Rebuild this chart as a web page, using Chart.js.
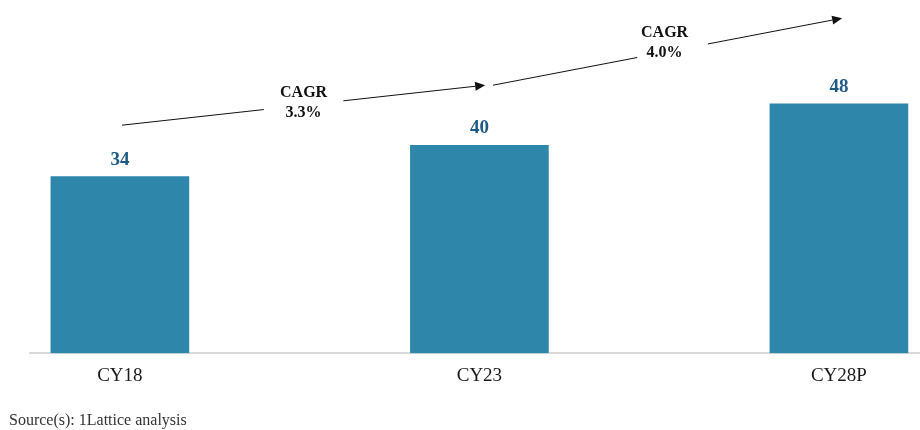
<!DOCTYPE html>
<html>
<head>
<meta charset="utf-8">
<script src="https://cdn.jsdelivr.net/npm/chart.js@4"></script>
<style>
  html, body { margin: 0; padding: 0; background: #ffffff; }
  #wrap { width: 920px; height: 430px; }
</style>
</head>
<body>
<div id="wrap"><canvas id="chart" width="920" height="430"></canvas></div>
<script>
// Market size by calendar year (CY28P = projected)
const categories = ['CY18', 'CY23', 'CY28P'];
const marketSize = [34, 40, 48];
// Growth rates between consecutive periods
const cagrLabels = ['3.3%', '4.0%'];
const sourceNote = 'Source(s): 1Lattice analysis';

const SERIF = '"Liberation Serif", "Times New Roman", Times, serif';
const BAR_COLOR = '#2E86AB';
const VALUE_COLOR = '#1F5A84';

// Value labels above each bar
const valueLabels = {
  id: 'valueLabels',
  afterDatasetsDraw(chart) {
    const { ctx } = chart;
    const meta = chart.getDatasetMeta(0);
    ctx.save();
    ctx.font = 'bold 19px ' + SERIF;
    ctx.fillStyle = VALUE_COLOR;
    ctx.textAlign = 'center';
    ctx.textBaseline = 'middle';
    meta.data.forEach((bar, i) => {
      ctx.fillText(String(marketSize[i]), bar.x, bar.y - 17);
    });
    ctx.restore();
  }
};

// Source note in the bottom-left corner
const sourceText = {
  id: 'sourceText',
  afterDraw(chart) {
    const { ctx } = chart;
    ctx.save();
    ctx.font = '16px ' + SERIF;
    ctx.fillStyle = '#333333';
    ctx.textAlign = 'left';
    ctx.textBaseline = 'middle';
    ctx.fillText(sourceNote, 9, chart.height - 9);
    ctx.restore();
  }
};

// CAGR arrows between bars, with a gap in the line for the label
const cagrArrows = {
  id: 'cagrArrows',
  afterDatasetsDraw(chart, args, opts) {
    const { ctx, scales: { x, y } } = chart;
    ctx.save();
    ctx.strokeStyle = '#111111';
    ctx.fillStyle = '#111111';
    ctx.lineWidth = 1;
    opts.items.forEach((item, k) => {
      const x0 = x.getPixelForValue(item.from[0]);
      const y0 = y.getPixelForValue(item.from[1]);
      const x1 = x.getPixelForValue(item.to[0]);
      const y1 = y.getPixelForValue(item.to[1]);
      const dx = x1 - x0, dy = y1 - y0;
      const len = Math.hypot(dx, dy);
      const ux = dx / len, uy = dy / len;
      const mx = x0 + dx * 0.5, my = y0 + dy * 0.5;
      const head = 10, hw = 4.5;
      ctx.beginPath();
      ctx.moveTo(x0, y0);
      ctx.lineTo(mx - ux * item.gapBefore, my - uy * item.gapBefore);
      ctx.moveTo(mx + ux * item.gapAfter, my + uy * item.gapAfter);
      ctx.lineTo(x1 - ux * head, y1 - uy * head);
      ctx.stroke();
      ctx.beginPath();
      ctx.moveTo(x1, y1);
      ctx.lineTo(x1 - ux * head - uy * hw, y1 - uy * head + ux * hw);
      ctx.lineTo(x1 - ux * head + uy * hw, y1 - uy * head - ux * hw);
      ctx.closePath();
      ctx.fill();
      ctx.font = 'bold 16px ' + SERIF;
      ctx.textAlign = 'center';
      ctx.textBaseline = 'middle';
      const tx = mx + item.dx, ty = my + item.dy;
      ctx.fillText('CAGR', tx, ty - 10);
      ctx.fillText(cagrLabels[k], tx, ty + 10);
    });
    ctx.restore();
  }
};

new Chart(document.getElementById('chart'), {
  type: 'bar',
  data: {
    datasets: [{
      data: categories.map((c, i) => ({ x: i, y: marketSize[i] })),
      backgroundColor: BAR_COLOR,
      borderWidth: 0,
      barThickness: 138
    }]
  },
  options: {
    responsive: false,
    animation: false,
    layout: { padding: { left: 30, right: 0, top: 0, bottom: 32 } },
    plugins: {
      legend: { display: false },
      tooltip: { enabled: false },
      cagrArrows: {
        items: [
          { from: [0.006, 43.9], to: [1.016, 51.6], gapBefore: 40, gapAfter: 40, dx: 0, dy: -2 },
          { from: [1.038, 51.6], to: [2.009, 64.5], gapBefore: 31, gapAfter: 41, dx: -3, dy: -9 }
        ]
      }
    },
    scales: {
      x: {
        type: 'linear',
        offset: false,
        min: -0.25,
        max: 2.2255,
        grid: { display: false, drawTicks: false, offset: false },
        border: { display: true, color: '#D9D9D9', width: 2 },
        ticks: {
          autoSkip: false,
          maxRotation: 0,
          padding: 11,
          color: '#1a1a1a',
          font: { family: SERIF, size: 19 },
          callback: value => categories[value]
        },
        afterBuildTicks: axis => { axis.ticks = categories.map((c, i) => ({ value: i })); }
      },
      y: {
        display: false,
        min: 0,
        max: 68
      }
    }
  },
  plugins: [cagrArrows, valueLabels, sourceText]
});
</script>
</body>
</html>
